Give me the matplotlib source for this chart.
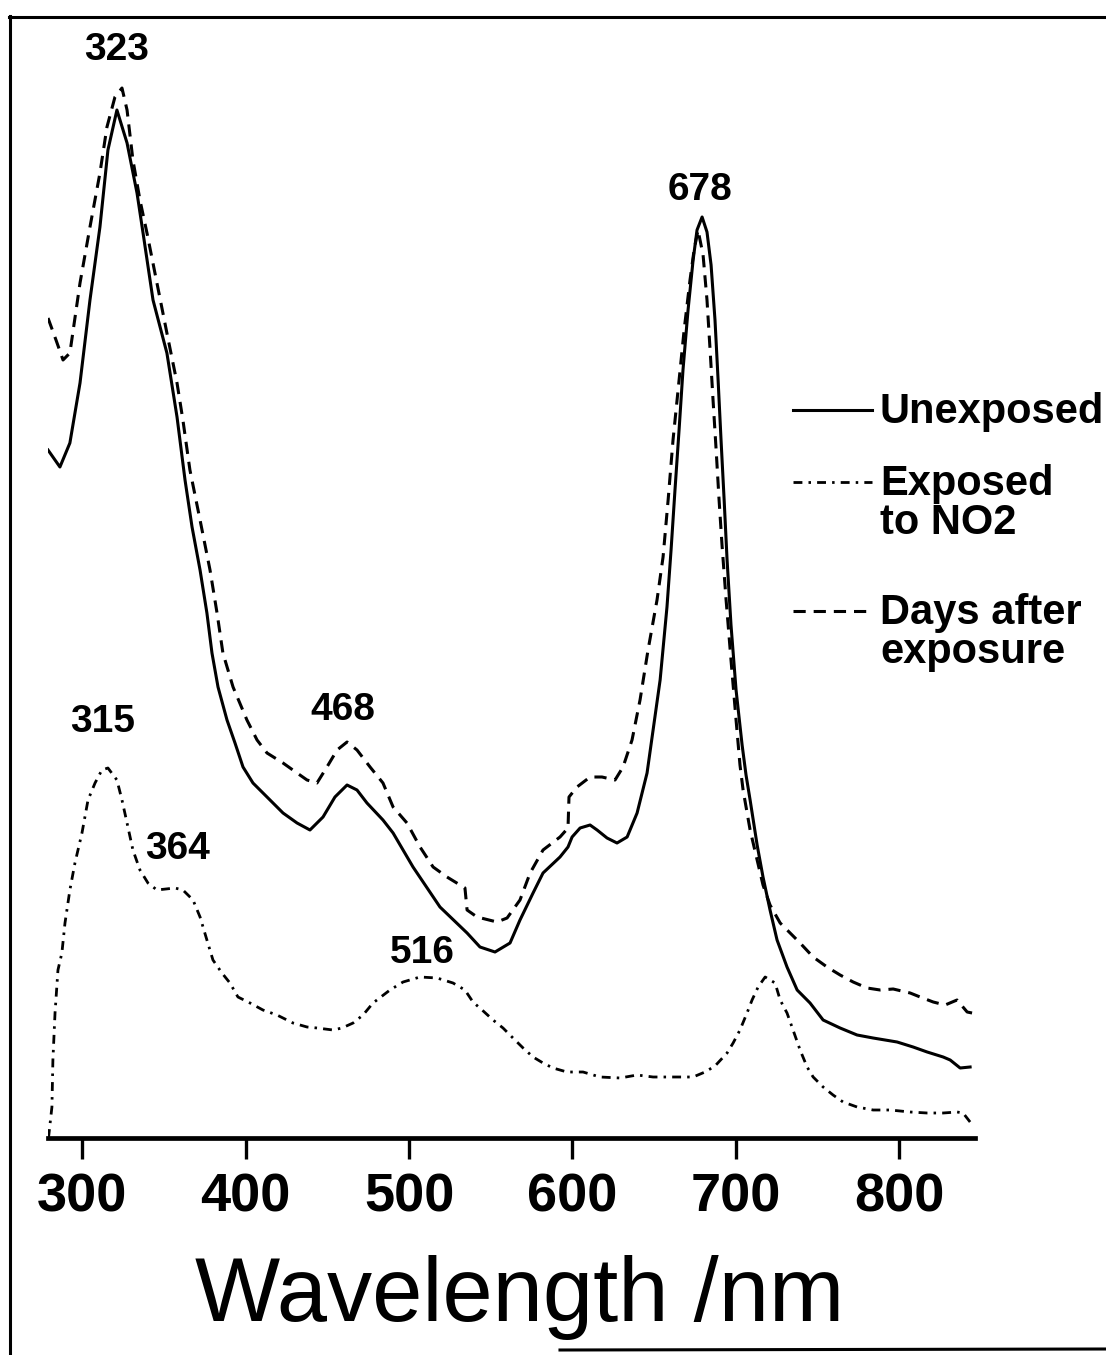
import matplotlib
matplotlib.use("Agg")
import matplotlib.pyplot as plt
from matplotlib.lines import Line2D

# ---------------- data (wavelength nm, absorbance a.u.) ----------------
unexp_nm = [278.9, 286.2, 292.3, 298.5, 304.6, 310.7, 315.6, 321.1, 327.3, 333.4,
            337.1, 343.2, 351.7, 357.9, 362.8, 367.1, 372.0, 376.2, 379.3, 383.0,
            388.5, 393.4, 398.3, 404.4, 413.0, 422.8, 431.4, 439.3, 447.3, 454.6,
            462.0, 468.1, 474.2, 484.0, 490.2, 502.4, 518.9, 535.5, 543.4, 552.6,
            561.8, 567.9, 575.9, 582.0, 592.4, 597.3, 599.8, 604.7, 610.8, 615.1,
            621.2, 627.3, 633.5, 639.6, 645.7, 649.4, 653.7, 657.9, 660.4, 662.8,
            665.3, 667.7, 670.8, 673.9, 676.3, 679.4, 682.4, 684.9, 687.3, 689.2,
            691.0, 692.9, 694.7, 697.1, 700.2, 703.9, 706.3, 708.8, 713.1, 716.7,
            721.0, 725.3, 731.4, 737.6, 745.5, 753.5, 763.9, 774.3, 784.1, 798.8,
            808.6, 817.2, 827.0, 831.3, 837.4, 843.5]
unexp_a = [0.688, 0.671, 0.695, 0.755, 0.838, 0.911, 0.988, 1.028, 0.995, 0.945,
           0.905, 0.838, 0.785, 0.721, 0.658, 0.611, 0.568, 0.525, 0.485, 0.451,
           0.418, 0.395, 0.371, 0.355, 0.341, 0.325, 0.315, 0.308, 0.321, 0.341,
           0.353, 0.348, 0.335, 0.318, 0.305, 0.271, 0.231, 0.205, 0.191, 0.186,
           0.195, 0.218, 0.245, 0.265, 0.281, 0.291, 0.301, 0.310, 0.313, 0.308,
           0.300, 0.295, 0.301, 0.325, 0.365, 0.408, 0.458, 0.531, 0.588, 0.648,
           0.708, 0.768, 0.828, 0.878, 0.908, 0.921, 0.906, 0.873, 0.818, 0.758,
           0.698, 0.638, 0.578, 0.513, 0.448, 0.393, 0.363, 0.338, 0.293, 0.261,
           0.228, 0.198, 0.171, 0.148, 0.135, 0.118, 0.110, 0.103, 0.100, 0.096,
           0.091, 0.086, 0.081, 0.078, 0.070, 0.071]

no2_nm = [279.2, 281.3, 281.9, 283.2, 285.0, 287.4, 289.3, 292.3, 295.4, 299.7,
          303.4, 307.7, 311.9, 315.6, 321.1, 324.2, 327.3, 330.9, 335.2, 340.1,
          345.6, 356.6, 361.5, 367.7, 372.0, 376.2, 379.9, 385.4, 390.3, 395.2,
          402.6, 410.5, 419.1, 428.9, 437.5, 443.6, 453.4, 458.9, 465.7, 471.8,
          477.9, 488.3, 496.3, 506.7, 517.1, 526.9, 534.2, 539.1, 544.7, 551.4,
          557.5, 563.6, 569.8, 575.9, 582.0, 588.1, 596.7, 606.5, 616.9, 629.2,
          639.6, 649.4, 661.6, 673.9, 681.2, 687.3, 694.7, 698.4, 702.6, 706.9,
          710.0, 713.7, 718.0, 724.1, 727.2, 731.4, 735.1, 739.4, 743.7, 747.4,
          753.5, 759.6, 765.7, 774.3, 784.1, 794.5, 806.8, 817.2, 827.0, 835.5,
          839.2, 843.5]
no2_a = [0.000, 0.031, 0.078, 0.125, 0.168, 0.185, 0.215, 0.248, 0.275, 0.305,
         0.338, 0.355, 0.368, 0.370, 0.358, 0.338, 0.315, 0.288, 0.268, 0.255,
         0.248, 0.250, 0.248, 0.238, 0.221, 0.198, 0.178, 0.165, 0.155, 0.141,
         0.135, 0.128, 0.123, 0.115, 0.111, 0.110, 0.108, 0.110, 0.115, 0.123,
         0.135, 0.148, 0.156, 0.161, 0.160, 0.155, 0.148, 0.136, 0.128, 0.118,
         0.110, 0.100, 0.090, 0.081, 0.075, 0.070, 0.066, 0.066, 0.061, 0.060,
         0.063, 0.061, 0.061, 0.061, 0.066, 0.072, 0.085, 0.095, 0.108, 0.125,
         0.138, 0.151, 0.161, 0.155, 0.138, 0.125, 0.108, 0.088, 0.071, 0.061,
         0.051, 0.043, 0.036, 0.031, 0.028, 0.028, 0.026, 0.025, 0.025, 0.026,
         0.025, 0.016]

days_nm = [278.9, 283.8, 288.1, 292.3, 298.5, 304.6, 310.7, 315.0, 319.9, 324.2,
           327.3, 330.9, 335.2, 339.5, 345.6, 351.7, 357.9, 361.5, 365.8, 372.0,
           378.1, 382.4, 386.0, 392.2, 400.7, 406.9, 413.0, 422.8, 431.4, 437.5,
           443.6, 449.7, 455.9, 462.0, 468.1, 476.1, 484.0, 490.2, 498.7, 506.7,
           514.7, 523.2, 534.2, 535.5, 541.6, 553.8, 560.0, 567.9, 574.1, 582.0,
           592.4, 597.3, 597.9, 602.8, 610.8, 618.1, 626.1, 631.0, 636.5, 641.4,
           646.3, 651.8, 655.5, 658.6, 661.6, 664.7, 668.4, 672.0, 674.5, 676.9,
           680.0, 682.4, 684.3, 686.1, 688.0, 689.8, 691.6, 694.1, 697.1, 700.2,
           702.6, 704.5, 708.8, 713.1, 716.7, 721.0, 727.2, 739.4, 747.4, 755.9,
           763.9, 771.9, 780.4, 788.4, 796.4, 806.8, 812.9, 820.9, 828.2, 835.5,
           841.7, 844.7]
days_a = [0.820, 0.798, 0.778, 0.785, 0.855, 0.911, 0.965, 1.011, 1.041, 1.050,
          1.028, 0.978, 0.938, 0.905, 0.855, 0.805, 0.755, 0.718, 0.668, 0.618,
          0.568, 0.525, 0.485, 0.451, 0.418, 0.398, 0.385, 0.375, 0.365, 0.358,
          0.355, 0.371, 0.388, 0.396, 0.388, 0.371, 0.355, 0.331, 0.315, 0.291,
          0.271, 0.261, 0.250, 0.228, 0.221, 0.216, 0.220, 0.238, 0.265, 0.288,
          0.301, 0.310, 0.341, 0.351, 0.361, 0.361, 0.358, 0.371, 0.398, 0.438,
          0.488, 0.538, 0.581, 0.638, 0.698, 0.748, 0.808, 0.858, 0.888, 0.908,
          0.883, 0.838, 0.788, 0.738, 0.688, 0.638, 0.593, 0.538, 0.478, 0.418,
          0.373, 0.348, 0.308, 0.278, 0.253, 0.233, 0.215, 0.195, 0.181, 0.171,
          0.163, 0.156, 0.150, 0.148, 0.149, 0.145, 0.141, 0.136, 0.133, 0.138,
          0.126, 0.125]

peak_labels = ["323", "678", "468", "315", "364", "516"]
peak_x = [321.0, 678.1, 459.5, 312.6, 358.5, 507.9]
peak_y = [1.088, 0.948, 0.428, 0.416, 0.289, 0.185]

tick_vals = [300, 400, 500, 600, 700, 800]
series_names = ["Unexposed", "Exposed\nto NO2", "Days after\nexposure"]
x_title = "Wavelength /nm"

# ---------------- figure ----------------
W, H = 1106, 1355
fig = plt.figure(figsize=(W / 100, H / 100), dpi=100)
fig.patch.set_facecolor("white")

def fx(px):
    return px / W

def fy(py):
    return 1 - py / H

ax = fig.add_axes([fx(48), fy(1138), fx(975) - fx(48), fy(17) - fy(1138)])
ax.set_xlim(278.9, 846.5)
ax.set_ylim(0, 1.121)

ls_solid = "-"
ls_days = (0, (4.0, 2.6))
ls_no2 = (0, (3.2, 2.2, 0.9, 2.2))

ax.plot(unexp_nm, unexp_a, color="black", lw=2.2, ls=ls_solid, solid_joinstyle="round")
ax.plot(days_nm, days_a, color="black", lw=2.2, ls=ls_days, dash_capstyle="butt")
ax.plot(no2_nm, no2_a, color="black", lw=2.0, ls=ls_no2)

sans = ["Liberation Sans", "DejaVu Sans"]
for lab, px_, py_ in zip(peak_labels, peak_x, peak_y):
    ax.text(px_, py_, lab, ha="center", va="center", fontsize=28,
            fontweight="bold", family=sans)

# axes styling
for s in ["top", "right", "left"]:
    ax.spines[s].set_visible(False)
ax.spines["bottom"].set_linewidth(3.4)
ax.set_yticks([])
ax.set_xticks(tick_vals)
ax.set_xticklabels([str(t) for t in tick_vals])
ax.tick_params(axis="x", direction="out", length=15, width=2.4, pad=10)
for lbl in ax.get_xticklabels():
    lbl.set_fontfamily(sans)
    lbl.set_fontweight("bold")
    lbl.set_fontsize(39)
ax.patch.set_alpha(0)

fig.text(fx(520), fy(1298), x_title, ha="center", va="center", fontsize=65,
         family=sans)

# legend (manual, handle aligned with first line of each label)
leg_styles = [(ls_solid, 2.2), (ls_no2, 2.0), (ls_days, 2.2)]
leg_y = [410, 482, 611]
line_gap = 39
for (ls, lw), name, y in zip(leg_styles, series_names, leg_y):
    fig.add_artist(Line2D([fx(793), fx(872)], [fy(y), fy(y)], color="black",
                          lw=lw, ls=ls, transform=fig.transFigure))
    for i, part in enumerate(name.split("\n")):
        fig.text(fx(880), fy(y - 2 + i * line_gap + 15), part, ha="left",
                 va="baseline", fontsize=30, fontweight="bold", family=sans)

# outer frame of the scanned figure
frame_kw = dict(color="black", lw=2.2, transform=fig.transFigure)
fig.add_artist(Line2D([fx(9), fx(1106)], [fy(17), fy(17)], **frame_kw))
fig.add_artist(Line2D([fx(10), fx(10)], [fy(16), fy(1355)], **frame_kw))
fig.add_artist(Line2D([fx(560), fx(1106)], [fy(1350), fy(1349)], **frame_kw))

fig.savefig("out.png", dpi=100, facecolor="white")
